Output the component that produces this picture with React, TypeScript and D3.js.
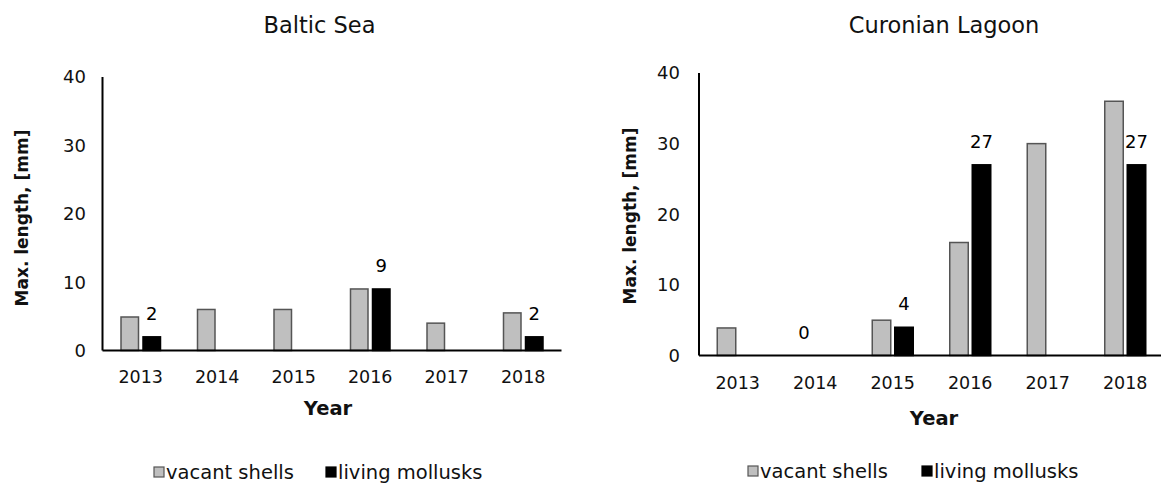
import React from "react";
import * as d3 from "d3";

const years = ["2013", "2014", "2015", "2016", "2017", "2018"];
const yTicks = [0, 10, 20, 30, 40];
const seriesKeys = ["vacant", "living"];
const seriesNames = ["vacant shells", "living mollusks"];

const balticVacant = [4.9, 6, 6, 9, 4, 5.5];
const balticLiving: (number | null)[] = [2, null, null, 9, null, 2];
const balticLabels = [
  { year: "2013", series: "living" },
  { year: "2016", series: "living" },
  { year: "2018", series: "living" },
];

const curonianVacant = [3.9, 0, 5, 16, 30, 36];
const curonianLiving: (number | null)[] = [null, null, 4, 27, null, 27];
const curonianLabels = [
  { year: "2014", series: "vacant" },
  { year: "2015", series: "living" },
  { year: "2016", series: "living" },
  { year: "2018", series: "living" },
];

const FONT = "'DejaVu Sans', Verdana, sans-serif";

type Layout = {
  title: string;
  titleX: number;
  titleY: number;
  axisX: number;
  baseY: number;
  topY: number;
  step: number;
  bw: number;
  gap: number;
  yTickX: number;
  xTickY: number;
  yearX: number;
  yearY: number;
  yTitleX: number;
  yTitleY: number;
  legendY: number;
  leg1X: number;
  leg2X: number;
};

function Chart({
  L,
  vacant,
  living,
  labels,
}: {
  L: Layout;
  vacant: (number | null)[];
  living: (number | null)[];
  labels: { year: string; series: string }[];
}) {
  const x = d3
    .scaleBand<string>()
    .domain(years)
    .range([L.axisX, L.axisX + L.step * years.length])
    .padding(0);
  const half = L.bw + L.gap / 2;
  const xs = d3
    .scaleBand<string>()
    .domain(seriesKeys)
    .range([-half, half])
    .paddingInner(L.gap / (L.bw + L.gap));
  const y = d3.scaleLinear().domain([0, 40]).range([L.baseY, L.topY]);
  const data: Record<string, (number | null)[]> = { vacant, living };
  const center = (yr: string) => (x(yr) as number) + x.bandwidth() / 2;

  return (
    <g>
      <text
        x={L.titleX}
        y={L.titleY}
        textAnchor="middle"
        fontFamily={FONT}
        fontSize={22.5}
        fill="#111"
      >
        {L.title}
      </text>
      {seriesKeys.map((k) =>
        years.map((yr, i) => {
          const v = data[k][i];
          if (v == null || v <= 0) return null;
          const bx = center(yr) + (xs(k) as number);
          return (
            <rect
              key={k + yr}
              x={bx}
              y={y(v)}
              width={xs.bandwidth()}
              height={L.baseY - y(v)}
              fill={k === "vacant" ? "#bfbfbf" : "#000"}
              stroke={k === "vacant" ? "#555" : "#000"}
              strokeWidth={1.5}
            />
          );
        })
      )}
      {labels.map((lb) => {
        const i = years.indexOf(lb.year);
        const v = data[lb.series][i] ?? 0;
        const cx = center(lb.year) + (xs(lb.series) as number) + xs.bandwidth() / 2;
        return (
          <text
            key={"l" + lb.year + lb.series}
            x={cx}
            y={y(v) - 17}
            textAnchor="middle"
            fontFamily={FONT}
            fontSize={18}
            fill="#000"
          >
            {String(v)}
          </text>
        );
      })}
      <line x1={L.axisX} x2={L.axisX} y1={L.topY} y2={L.baseY} stroke="#000" strokeWidth={2} />
      <line
        x1={L.axisX}
        x2={L.axisX + L.step * years.length}
        y1={L.baseY}
        y2={L.baseY}
        stroke="#000"
        strokeWidth={2}
      />
      {yTicks.map((t) => (
        <text
          key={"yt" + t}
          x={L.yTickX}
          y={y(t)}
          dy="0.36em"
          textAnchor="end"
          fontFamily={FONT}
          fontSize={18}
          fill="#111"
        >
          {t}
        </text>
      ))}
      {years.map((yr) => (
        <text
          key={"xt" + yr}
          x={center(yr)}
          y={L.xTickY}
          textAnchor="middle"
          fontFamily={FONT}
          fontSize={17.5}
          fill="#111"
        >
          {yr}
        </text>
      ))}
      <text
        x={L.yearX}
        y={L.yearY}
        textAnchor="middle"
        fontFamily={FONT}
        fontSize={19.5}
        fontWeight="bold"
        fill="#111"
      >
        Year
      </text>
      <text
        transform={`translate(${L.yTitleX},${L.yTitleY}) rotate(-90)`}
        textAnchor="middle"
        dy="0.36em"
        fontFamily={FONT}
        fontSize={17}
        fontWeight="bold"
        fill="#111"
      >
        Max. length, [mm]
      </text>
      {seriesKeys.map((k, i) => {
        const lx = i === 0 ? L.leg1X : L.leg2X;
        return (
          <g key={"lg" + k}>
            <rect
              x={lx}
              y={L.legendY - 5}
              width={10}
              height={10}
              fill={k === "vacant" ? "#bfbfbf" : "#000"}
              stroke={k === "vacant" ? "#555" : "#000"}
              strokeWidth={1.2}
            />
            <text
              x={lx + 12}
              y={L.legendY}
              dy="0.36em"
              fontFamily={FONT}
              fontSize={19.5}
              fill="#111"
            >
              {seriesNames[i]}
            </text>
          </g>
        );
      })}
    </g>
  );
}

const leftLayout: Layout = {
  title: "Baltic Sea",
  titleX: 319.5,
  titleY: 33,
  axisX: 102.5,
  baseY: 350.5,
  topY: 77,
  step: 76.5,
  bw: 17.5,
  gap: 4.5,
  yTickX: 86,
  xTickY: 383,
  yearX: 328,
  yearY: 415,
  yTitleX: 22,
  yTitleY: 218,
  legendY: 472,
  leg1X: 154,
  leg2X: 326,
};

const rightLayout: Layout = {
  title: "Curonian Lagoon",
  titleX: 944,
  titleY: 33,
  axisX: 699,
  baseY: 355.5,
  topY: 73,
  step: 77.5,
  bw: 18.5,
  gap: 4,
  yTickX: 680,
  xTickY: 389,
  yearX: 934,
  yearY: 425,
  yTitleX: 630,
  yTitleY: 216,
  legendY: 471,
  leg1X: 748,
  leg2X: 922,
};

export default function App() {
  return (
    <svg
      width={1161}
      height={484}
      style={{ position: "absolute", left: 0, top: 0, background: "#fff" }}
    >
      <rect width={1161} height={484} fill="#fff" />
      <Chart L={leftLayout} vacant={balticVacant} living={balticLiving} labels={balticLabels} />
      <Chart L={rightLayout} vacant={curonianVacant} living={curonianLiving} labels={curonianLabels} />
    </svg>
  );
}
